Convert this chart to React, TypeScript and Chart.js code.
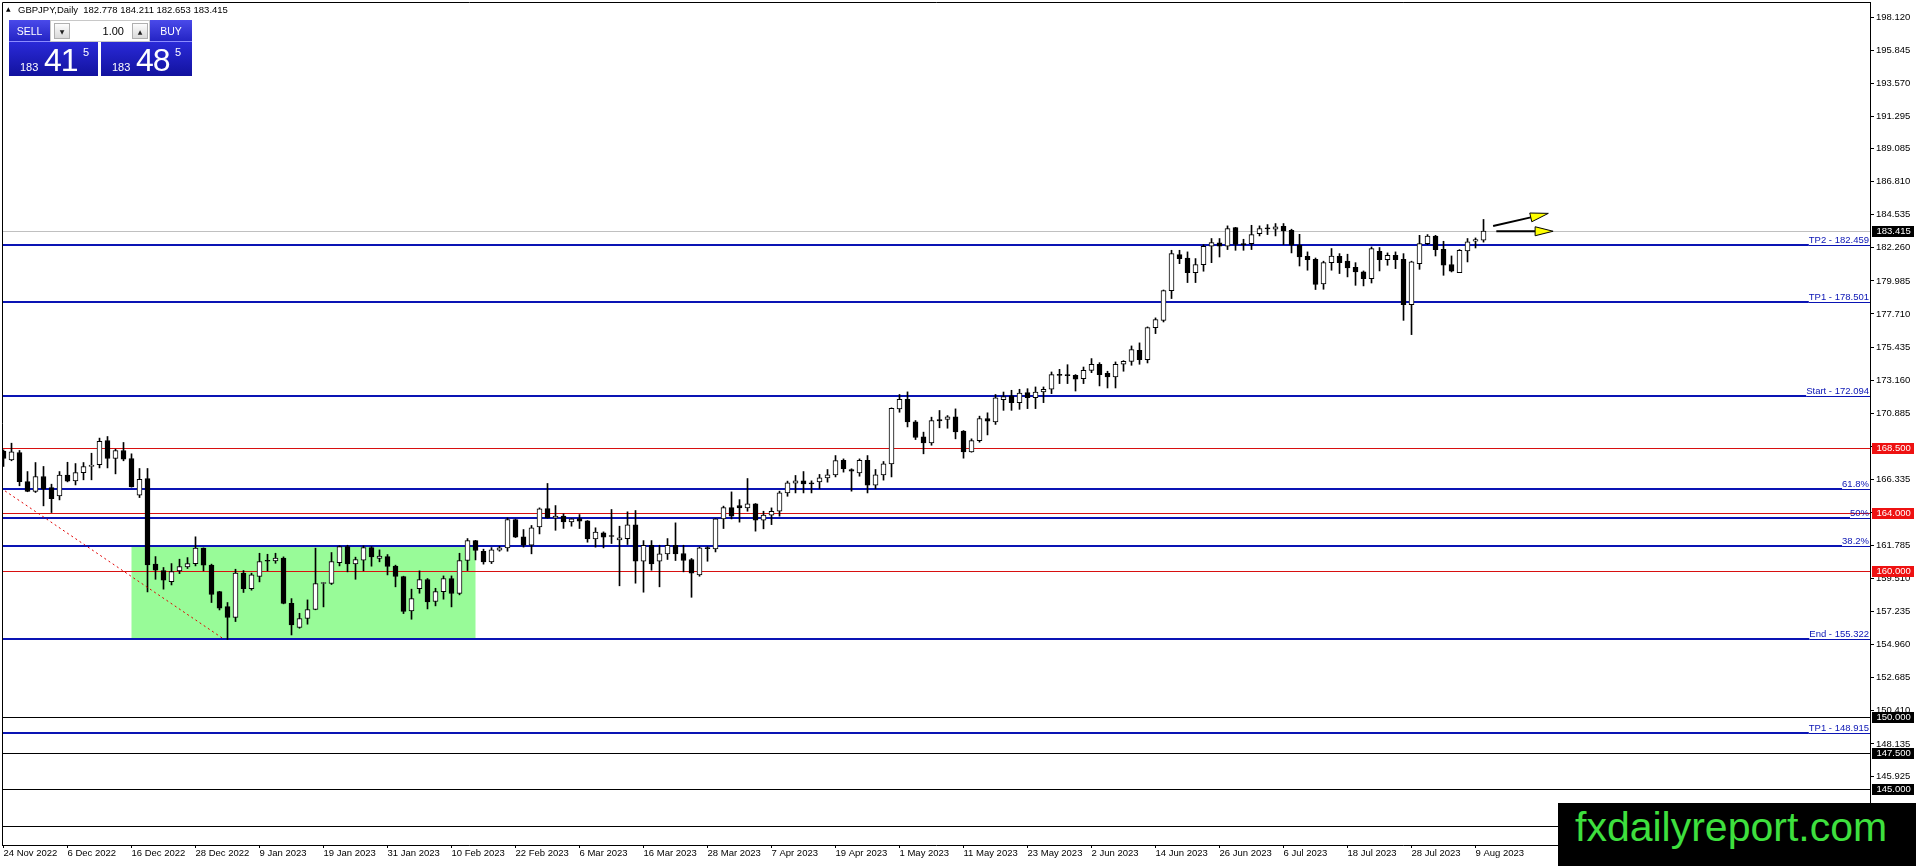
import { useEffect, useRef } from 'react';
import { Chart, registerables } from 'chart.js';

Chart.register(...registerables);

// GBPJPY Daily, 24 Nov 2022 .. 10 Aug 2023 (one bar per trading day)
const dateLabels = [
  '24 Nov 2022', '6 Dec 2022', '16 Dec 2022', '28 Dec 2022', '9 Jan 2023', '19 Jan 2023',
  '31 Jan 2023', '10 Feb 2023', '22 Feb 2023', '6 Mar 2023', '16 Mar 2023', '28 Mar 2023',
  '7 Apr 2023', '19 Apr 2023', '1 May 2023', '11 May 2023', '23 May 2023', '2 Jun 2023',
  '14 Jun 2023', '26 Jun 2023', '6 Jul 2023', '18 Jul 2023', '28 Jul 2023', '9 Aug 2023',
];
const barsPerLabel = 8;

const opens = [
  168.27, 167.67, 168.18, 166.18, 165.50, 166.53, 165.77, 165.20, 166.62, 166.23,
  166.80, 167.22, 167.35, 169.00, 167.77, 168.32, 167.77, 165.24, 166.39, 160.50,
  160.06, 159.30, 160.04, 160.31, 160.54, 161.60, 160.43, 158.61, 157.58, 156.83,
  159.88, 158.82, 159.65, 160.73, 160.73, 160.91, 157.81, 156.14, 156.76, 157.38,
  159.17, 159.17, 160.61, 161.71, 160.52, 160.77, 161.64, 160.89, 161.02, 160.36,
  159.65, 157.28, 158.82, 159.44, 157.93, 158.61, 159.51, 158.48, 160.75, 162.12,
  161.39, 160.66, 161.46, 161.62, 163.57, 162.38, 161.80, 163.06, 164.33, 163.68,
  163.80, 163.41, 163.64, 163.48, 162.24, 162.65, 162.42, 162.17, 162.26, 163.20,
  160.70, 161.80, 160.70, 161.21, 161.80, 161.23, 160.82, 159.76, 161.60, 161.55,
  163.61, 164.39, 164.53, 164.37, 164.65, 163.52, 163.87, 164.14, 165.40, 166.07,
  166.23, 166.07, 166.16, 166.44, 166.64, 167.65, 167.01, 166.78, 167.65, 165.93,
  166.64, 167.40, 171.18, 171.83, 170.29, 169.26, 168.84, 170.45, 170.45, 170.63,
  169.65, 168.22, 169.00, 170.52, 170.29, 171.82, 172.07, 171.61, 172.30, 171.96,
  172.34, 172.53, 173.54, 173.49, 173.49, 173.26, 173.83, 174.25, 173.63, 173.38,
  174.25, 174.45, 175.21, 174.57, 176.77, 177.27, 179.32, 181.79, 181.56, 180.55,
  181.10, 182.37, 182.60, 182.37, 183.65, 182.50, 182.55, 183.24, 183.58, 183.54,
  183.74, 183.47, 182.44, 181.68, 181.47, 179.77, 181.24, 181.68, 181.34, 180.92,
  180.60, 180.14, 182.02, 181.45, 181.75, 181.47, 178.35, 181.17, 182.55, 183.06,
  182.16, 181.11, 180.55, 182.05, 182.71, 182.778,
];
const highs = [
  168.36, 168.82, 168.32, 166.87, 167.49, 167.22, 166.00, 166.87, 167.51, 167.42,
  167.49, 168.13, 169.17, 169.28, 168.41, 168.87, 168.09, 167.08, 167.08, 161.02,
  160.27, 160.54, 160.84, 160.95, 162.38, 161.62, 160.50, 158.63, 157.86, 160.15,
  160.06, 159.88, 161.25, 161.18, 161.25, 161.00, 158.13, 157.12, 158.04, 161.60,
  159.23, 161.30, 161.76, 161.80, 160.98, 161.76, 161.71, 161.48, 161.16, 160.43,
  159.67, 158.78, 160.04, 159.51, 158.84, 159.69, 159.69, 161.25, 162.26, 162.14,
  161.53, 161.64, 161.73, 163.68, 163.60, 162.88, 163.16, 164.37, 166.05, 164.53,
  163.96, 163.63, 163.91, 163.50, 163.00, 162.72, 164.26, 163.11, 164.10, 164.19,
  162.12, 162.12, 161.80, 162.26, 163.34, 161.80, 160.89, 161.67, 161.69, 163.63,
  164.49, 165.47, 164.94, 166.39, 164.67, 164.14, 164.37, 165.52, 166.21, 166.60,
  166.87, 166.23, 166.67, 167.01, 167.97, 167.74, 167.06, 167.74, 167.97, 167.01,
  167.56, 171.25, 172.17, 172.35, 170.38, 169.58, 170.61, 171.07, 170.72, 171.18,
  169.69, 169.12, 170.68, 170.91, 172.17, 172.34, 172.46, 172.53, 172.57, 172.69,
  172.69, 173.72, 173.90, 174.22, 173.54, 174.06, 174.64, 174.36, 173.77, 174.41,
  174.50, 175.51, 175.72, 176.82, 177.44, 179.36, 182.09, 182.09, 181.98, 181.52,
  182.48, 182.90, 182.90, 183.77, 183.67, 182.85, 183.81, 183.77, 183.86, 183.93,
  183.93, 183.54, 183.19, 181.98, 181.56, 181.34, 182.21, 181.86, 181.82, 181.24,
  180.67, 182.32, 182.28, 181.91, 181.98, 181.86, 181.34, 183.12, 183.17, 183.12,
  182.71, 181.70, 182.14, 182.90, 182.94, 184.211,
];
const lows = [
  167.22, 167.61, 165.89, 165.48, 165.43, 164.51, 164.05, 164.92, 166.16, 165.95,
  166.30, 166.30, 167.12, 167.12, 166.71, 167.61, 165.80, 165.08, 158.59, 159.46,
  158.78, 159.07, 159.85, 160.20, 160.38, 160.04, 157.86, 157.35, 155.322, 156.55,
  158.55, 158.71, 159.28, 160.04, 160.56, 157.77, 155.63, 156.09, 156.37, 157.36,
  157.56, 159.10, 160.38, 159.97, 159.46, 160.04, 160.36, 160.66, 159.76, 158.94,
  157.10, 156.71, 158.50, 157.42, 157.63, 158.09, 157.56, 158.39, 160.06, 160.79,
  160.50, 160.54, 161.39, 161.39, 162.33, 161.67, 161.21, 162.58, 163.66, 162.83,
  162.96, 163.11, 162.95, 162.01, 161.67, 161.62, 161.92, 159.01, 161.85, 159.19,
  158.57, 160.08, 158.94, 160.82, 160.75, 159.97, 158.22, 159.67, 160.70, 161.34,
  162.95, 163.61, 163.39, 164.14, 162.77, 162.93, 163.22, 163.80, 165.17, 165.40,
  165.40, 165.40, 165.68, 166.14, 166.50, 166.83, 165.52, 166.55, 165.40, 165.68,
  166.28, 166.50, 170.95, 169.94, 169.07, 168.09, 168.68, 169.88, 169.85, 169.12,
  167.79, 168.20, 168.89, 169.39, 170.11, 171.08, 171.08, 171.15, 171.20, 171.20,
  171.61, 172.23, 172.92, 172.92, 172.41, 172.92, 173.67, 172.76, 172.62, 172.62,
  173.77, 174.18, 174.25, 174.34, 176.36, 177.16, 178.77, 181.17, 179.87, 179.87,
  180.65, 181.24, 181.63, 182.14, 182.09, 182.09, 182.14, 183.08, 183.17, 183.08,
  182.48, 181.91, 181.01, 180.72, 179.39, 179.41, 180.72, 180.49, 180.26, 179.68,
  179.64, 179.84, 180.67, 181.06, 180.83, 177.27, 176.29, 180.78, 182.48, 181.70,
  180.37, 180.60, 180.55, 181.29, 182.25, 182.653,
];
const closes = [
  167.77, 168.22, 166.18, 165.50, 166.53, 165.66, 165.01, 166.62, 166.21, 166.80,
  167.22, 167.31, 168.94, 167.77, 168.32, 167.72, 165.82, 166.34, 160.45, 160.08,
  159.39, 159.99, 160.34, 160.54, 161.60, 160.43, 158.41, 157.47, 156.83, 159.88,
  158.82, 159.76, 160.68, 160.70, 160.91, 157.79, 156.32, 156.76, 157.38, 159.17,
  159.21, 160.68, 161.71, 160.52, 160.82, 161.64, 161.00, 161.05, 160.34, 159.65,
  157.24, 158.13, 159.44, 157.90, 158.61, 159.51, 158.48, 160.75, 162.12, 161.44,
  160.66, 161.48, 161.62, 163.57, 162.35, 161.80, 163.00, 164.30, 163.68, 163.80,
  163.41, 163.61, 163.45, 162.24, 162.70, 162.35, 162.40, 162.31, 163.20, 160.70,
  161.80, 160.52, 161.21, 161.80, 161.21, 160.75, 159.88, 161.62, 161.57, 163.61,
  164.39, 163.80, 164.37, 164.65, 163.52, 163.87, 164.14, 165.40, 166.09, 166.23,
  166.02, 166.02, 166.44, 166.64, 167.63, 167.06, 166.89, 167.65, 165.93, 166.64,
  167.40, 171.21, 171.83, 170.29, 169.21, 168.84, 170.38, 170.36, 170.63, 169.60,
  168.22, 169.00, 170.52, 170.33, 171.94, 172.02, 171.61, 172.27, 171.96, 172.34,
  172.53, 173.54, 173.49, 173.47, 173.22, 173.83, 174.25, 173.54, 173.38, 174.25,
  174.45, 175.26, 174.57, 176.77, 177.32, 179.32, 181.86, 181.52, 180.55, 181.10,
  182.37, 182.62, 182.37, 183.58, 182.50, 182.48, 183.17, 183.58, 183.56, 183.70,
  183.42, 182.44, 181.63, 181.45, 179.75, 181.24, 181.70, 181.24, 180.88, 180.60,
  180.14, 182.21, 181.45, 181.75, 181.45, 178.35, 181.29, 182.55, 183.06, 182.14,
  181.06, 180.65, 182.09, 182.67, 182.83, 183.415,
];

// price scale labels as MT4 prints them
const priceTicks = [
  198.12, 195.845, 193.57, 191.295, 189.085, 186.81, 184.535, 182.26, 179.985, 177.71,
  175.435, 173.16, 170.885, 168.61, 166.335, 164.06, 161.785, 159.51, 157.235, 154.96,
  152.685, 150.41, 148.135, 145.925, 143.65,
];

// fibo expansion levels (blue)
const fiboLevels = [182.459, 178.501, 172.094, 165.687, 163.708, 161.729, 155.322, 148.915];
const fiboNames = ['TP2 - 182.459', 'TP1 - 178.501', 'Start - 172.094', '61.8%', '50%', '38.2%', 'End - 155.322', 'TP1 - 148.915'];
// horizontal lines
const redLevels = [168.5, 164.0, 160.0];
const blackLevels = [150.0, 147.5, 145.0, 142.5];
const bidPrice = 183.415;
const askPrice = 183.485;

// green zone (bar index range and price range)
const zoneFrom = 16;
const zoneTo = 59;
const zoneTop = 161.729;
const zoneBottom = 155.322;

// red dotted trend line
const trendX = [-17.4, 27.6];
const trendY = [172.094, 155.322];

// yellow arrows
const arrowX0 = [186.2, 186.6];
const arrowY0 = [183.76, 183.4];
const arrowX1 = [193.1, 193.7];
const arrowY1 = [184.63, 183.4];

const xMin = -0.1875;
const xMax = 233.31;
const yMin = 141.18;
const yMax = 199.17;

const fiboColor = '#0a14b4';
const redColor = '#d81010';
const axisFont = { family: '"Liberation Sans", Arial, sans-serif', size: 9.5 };
const canvasFont = '9.5px "Liberation Sans", Arial, sans-serif';

function drawArrow(ctx: CanvasRenderingContext2D, x0: number, y0: number, x1: number, y1: number) {
  const ang = Math.atan2(y1 - y0, x1 - x0);
  const cos = Math.cos(ang);
  const sin = Math.sin(ang);
  const headLen = 18;
  const headW = 4.5;
  const bx = x1 - headLen * cos;
  const by = y1 - headLen * sin;
  ctx.strokeStyle = '#000';
  ctx.lineWidth = 2;
  ctx.beginPath();
  ctx.moveTo(x0, y0);
  ctx.lineTo(bx, by);
  ctx.stroke();
  ctx.beginPath();
  ctx.moveTo(x1, y1);
  ctx.lineTo(bx - headW * sin, by + headW * cos);
  ctx.lineTo(bx + headW * sin, by - headW * cos);
  ctx.closePath();
  ctx.fillStyle = '#ffff00';
  ctx.fill();
  ctx.lineWidth = 1;
  ctx.stroke();
}

const levelsPlugin = {
  id: 'levels',
  beforeDatasetsDraw(chart: any) {
    const { ctx, chartArea: a } = chart;
    const x = chart.scales.x;
    const y = chart.scales.y;
    ctx.save();
    ctx.beginPath();
    ctx.rect(a.left, a.top, a.right - a.left, a.bottom - a.top);
    ctx.clip();

    const zx0 = x.getPixelForValue(zoneFrom);
    const zx1 = x.getPixelForValue(zoneTo);
    const zy0 = y.getPixelForValue(zoneTop);
    const zy1 = y.getPixelForValue(zoneBottom);
    ctx.fillStyle = '#98fb98';
    ctx.fillRect(zx0, zy0, zx1 - zx0, zy1 - zy0);

    const hline = (v: number, color: string) => {
      const py = Math.round(y.getPixelForValue(v)) + 0.5;
      ctx.strokeStyle = color;
      ctx.lineWidth = 1;
      ctx.beginPath();
      ctx.moveTo(a.left, py);
      ctx.lineTo(a.right, py);
      ctx.stroke();
    };
    hline(bidPrice, '#c0c0c0');
    redLevels.forEach((v) => hline(v, redColor));
    blackLevels.forEach((v) => hline(v, '#000'));

    ctx.font = canvasFont;
    ctx.textAlign = 'right';
    ctx.textBaseline = 'alphabetic';
    fiboLevels.forEach((v, k) => {
      const text = fiboNames[k];
      const tw = ctx.measureText(text).width;
      const py = Math.round(y.getPixelForValue(v));
      const lx = a.right - 1 - tw;
      ctx.fillStyle = fiboColor;
      ctx.fillRect(a.left, py - 1, lx - a.left, 2);
      ctx.fillRect(lx, py, a.right - lx, 1);
      ctx.fillText(text, a.right - 1, py - 2);
    });
    ctx.restore();
  },
  afterDraw(chart: any) {
    const { ctx, chartArea: a } = chart;
    const x = chart.scales.x;
    const y = chart.scales.y;
    ctx.save();
    // frame top and left
    ctx.strokeStyle = '#000';
    ctx.lineWidth = 1;
    ctx.beginPath();
    ctx.moveTo(a.left + 0.5, a.bottom);
    ctx.lineTo(a.left + 0.5, a.top + 0.5);
    ctx.lineTo(a.right, a.top + 0.5);
    ctx.stroke();

    arrowX0.forEach((_, k) => {
      drawArrow(
        ctx,
        x.getPixelForValue(arrowX0[k]),
        y.getPixelForValue(arrowY0[k]),
        x.getPixelForValue(arrowX1[k]),
        y.getPixelForValue(arrowY1[k]),
      );
    });

    ctx.font = canvasFont;
    ctx.textAlign = 'left';
    ctx.textBaseline = 'middle';
    const badge = (v: number, bg: string) => {
      const py = Math.round(y.getPixelForValue(v));
      ctx.fillStyle = bg;
      ctx.fillRect(a.right + 2, py - 5, 42, 11);
      ctx.fillStyle = '#fff';
      ctx.fillText(v.toFixed(3), a.right + 6.5, py + 0.5);
    };
    redLevels.forEach((v) => badge(v, '#ee1111'));
    blackLevels.forEach((v) => badge(v, '#000'));
    badge(bidPrice, '#000');
    ctx.restore();
  },
};

function PricePart({ left, width, price }: { left: number; width: number; price: number }) {
  const s = price.toFixed(3);
  const big = s.slice(4, 6);
  const small = s.slice(0, 3);
  const last = s.slice(6);
  const font = '"Liberation Sans", Arial, sans-serif';
  return (
    <div style={{ position: 'absolute', left, top: 42, width, height: 34, background: 'linear-gradient(#2a2ad8, #12129e)', color: '#fff', fontFamily: font }}>
      <span style={{ position: 'absolute', left: 11, top: 20, fontSize: 11, lineHeight: '11px' }}>{small}</span>
      <span style={{ position: 'absolute', left: 35, top: 2, fontSize: 32, lineHeight: '32px', letterSpacing: -1 }}>{big}</span>
      <span style={{ position: 'absolute', left: 74, top: 5, fontSize: 11, lineHeight: '11px' }}>{last}</span>
    </div>
  );
}

function TradePanel() {
  const font = '"Liberation Sans", Arial, sans-serif';
  const button = {
    position: 'absolute' as const,
    top: 20,
    height: 22,
    background: 'linear-gradient(#4a4aea, #2424c4)',
    color: '#fff',
    fontFamily: font,
    fontSize: 10.5,
    display: 'flex',
    alignItems: 'center',
    justifyContent: 'center',
    boxSizing: 'border-box' as const,
    borderBottom: '1px solid #8c8cff',
  };
  const spin = {
    position: 'absolute' as const,
    top: 23,
    width: 16,
    height: 16,
    background: 'linear-gradient(#fdfdfd, #dadada)',
    border: '1px solid #b0b0b0',
    boxSizing: 'border-box' as const,
    fontSize: 6,
    color: '#222',
    display: 'flex',
    alignItems: 'center',
    justifyContent: 'center',
    fontFamily: '"DejaVu Sans", sans-serif',
  };
  return (
    <>
      <div style={{ ...button, left: 9, width: 41 }}>SELL</div>
      <div style={{ position: 'absolute', left: 50, top: 20, width: 100, height: 22, background: '#fff', boxSizing: 'border-box', border: '1px solid #c8c8c8' }} />
      <div style={{ ...spin, left: 54 }}>▼</div>
      <div style={{ position: 'absolute', left: 72, top: 22, width: 52, height: 18, lineHeight: '18px', textAlign: 'right', fontFamily: font, fontSize: 11, color: '#000' }}>1.00</div>
      <div style={{ ...spin, left: 132 }}>▲</div>
      <div style={{ ...button, left: 150, width: 42 }}>BUY</div>
      <PricePart left={9} width={89} price={bidPrice} />
      <PricePart left={101} width={91} price={askPrice} />
    </>
  );
}

export default function App() {
  const canvasRef = useRef<HTMLCanvasElement>(null);

  useEffect(() => {
    if (!canvasRef.current) return;
    const bodies = opens.map((o, i) => ({ x: i, y: [Math.min(o, closes[i]), Math.max(o, closes[i])] }));
    const bodyColors = opens.map((o, i) => (closes[i] >= o ? '#ffffff' : '#000000'));
    const wicks = opens.map((_, i) => ({ x: i, y: [lows[i], highs[i]] }));
    const trend = trendX.map((v, k) => ({ x: v, y: trendY[k] }));

    const chart = new Chart(canvasRef.current, {
      type: 'bar',
      data: {
        datasets: [
          {
            type: 'line',
            data: trend as any,
            borderColor: '#e00000',
            borderWidth: 1,
            borderDash: [2, 3],
            pointRadius: 0,
            fill: false,
            order: 0,
          },
          {
            type: 'bar',
            data: bodies as any,
            backgroundColor: bodyColors,
            borderColor: '#000',
            borderWidth: 1,
            borderSkipped: false,
            barThickness: 5,
            grouped: false,
            minBarLength: 1,
            order: 1,
          },
          {
            type: 'bar',
            data: wicks as any,
            backgroundColor: '#000',
            borderWidth: 0,
            barThickness: 1,
            grouped: false,
            order: 2,
          },
        ],
      },
      options: {
        animation: false,
        responsive: true,
        maintainAspectRatio: false,
        events: [],
        layout: { padding: { left: 2, top: 2, right: 0, bottom: 0 } },
        plugins: { legend: { display: false }, tooltip: { enabled: false } },
        scales: {
          x: {
            type: 'linear',
            min: xMin,
            max: xMax,
            offset: false,
            grid: { drawOnChartArea: false, drawTicks: true, tickLength: 3, color: '#000', offset: false },
            border: { display: true, color: '#000' },
            ticks: {
              autoSkip: false,
              maxRotation: 0,
              minRotation: 0,
              align: 'start',
              padding: 0,
              color: '#000',
              font: axisFont,
              callback: (v: any) => dateLabels[Math.round(Number(v) / barsPerLabel)] ?? '',
            },
            afterBuildTicks: (scale: any) => {
              scale.ticks = dateLabels.map((_, k) => ({ value: k * barsPerLabel }));
            },
            afterFit: (scale: any) => {
              scale.height = 21;
              scale.paddingLeft = 0;
              scale.paddingRight = 0;
            },
          },
          y: {
            type: 'linear',
            position: 'right',
            min: yMin,
            max: yMax,
            grid: { drawOnChartArea: false, drawTicks: true, tickLength: 4, color: '#000' },
            border: { display: true, color: '#000' },
            ticks: {
              autoSkip: false,
              padding: 2,
              color: '#000',
              font: axisFont,
              callback: (v: any) => Number(v).toFixed(3),
            },
            afterBuildTicks: (scale: any) => {
              scale.ticks = [...priceTicks].reverse().map((v) => ({ value: v }));
            },
            afterFit: (scale: any) => {
              scale.width = 46;
              scale.paddingTop = 0;
              scale.paddingBottom = 0;
            },
          },
        },
      },
      plugins: [levelsPlugin],
    });

    return () => chart.destroy();
  }, []);

  const last = opens.length - 1;
  const header = `GBPJPY,Daily  ${opens[last].toFixed(3)} ${highs[last].toFixed(3)} ${lows[last].toFixed(3)} ${closes[last].toFixed(3)}`;

  return (
    <div style={{ position: 'fixed', left: 0, top: 0, width: 1916, height: 866, background: '#fff', overflow: 'hidden' }}>
      <div style={{ position: 'absolute', left: 0, top: 0, width: 1916, height: 866 }}>
        <canvas ref={canvasRef} />
      </div>
      <div style={{ position: 'absolute', left: 6, top: 5, fontFamily: '"DejaVu Sans", sans-serif', fontSize: 6, lineHeight: '8px', color: '#000' }}>▲</div>
      <div style={{ position: 'absolute', left: 18, top: 5, fontFamily: '"Liberation Sans", Arial, sans-serif', fontSize: 9.5, lineHeight: '9.5px', color: '#000', whiteSpace: 'pre' }}>
        {header}
      </div>
      <TradePanel />
      <div style={{ position: 'absolute', left: 1558, top: 803, width: 358, height: 63, background: '#000' }}>
        <span style={{ position: 'absolute', left: 17, top: 4, fontFamily: '"Liberation Sans", Arial, sans-serif', fontSize: 41, lineHeight: '41px', color: '#3ee03e', whiteSpace: 'nowrap' }}>
          fxdailyreport.com
        </span>
      </div>
    </div>
  );
}
